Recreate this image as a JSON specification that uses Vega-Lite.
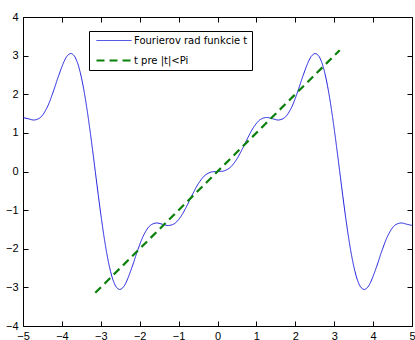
{
  "$schema": "https://vega.github.io/schema/vega-lite/v6.json",
  "width": 389,
  "height": 309,
  "autosize": {"type": "none"},
  "padding": {"left": 23, "top": 17, "right": 3, "bottom": 14},
  "background": "white",
  "config": {
    "view": {"stroke": "black", "strokeWidth": 1},
    "font": "Liberation Sans",
    "axis": {
      "domain": false,
      "grid": false,
      "tickColor": "black",
      "tickSize": -5,
      "labelColor": "black",
      "labelFont": "Liberation Sans",
      "labelFontSize": 11,
      "title": null
    },
    "legend": {
      "orient": "none",
      "legendX": 66,
      "legendY": 14,
      "title": null,
      "fillColor": "white",
      "strokeColor": "black",
      "padding": 4,
      "labelFont": "DejaVu Sans",
      "labelFontSize": 10,
      "labelColor": "black",
      "symbolType": "M-3.5,0H3.5",
      "symbolSize": 100,
      "symbolOffset": 14.5,
      "rowPadding": 8,
      "labelOffset": 13.5
    }
  },
  "data": {
    "values": [
      {"t": -5, "y": 1.3966, "s": "Fourierov rad funkcie t"},
      {"t": -4.8695, "y": 1.3663, "s": "Fourierov rad funkcie t"},
      {"t": -4.7124, "y": 1.3333, "s": "Fourierov rad funkcie t"},
      {"t": -4.5553, "y": 1.3965, "s": "Fourierov rad funkcie t"},
      {"t": -4.3982, "y": 1.6225, "s": "Fourierov rad funkcie t"},
      {"t": -4.2412, "y": 2.0112, "s": "Fourierov rad funkcie t"},
      {"t": -4.0841, "y": 2.4812, "s": "Fourierov rad funkcie t"},
      {"t": -3.927, "y": 2.8856, "s": "Fourierov rad funkcie t"},
      {"t": -3.8485, "y": 3.0095, "s": "Fourierov rad funkcie t"},
      {"t": -3.7699, "y": 3.0546, "s": "Fourierov rad funkcie t"},
      {"t": -3.6914, "y": 3.0051, "s": "Fourierov rad funkcie t"},
      {"t": -3.6128, "y": 2.851, "s": "Fourierov rad funkcie t"},
      {"t": -3.5343, "y": 2.5884, "s": "Fourierov rad funkcie t"},
      {"t": -3.4558, "y": 2.2207, "s": "Fourierov rad funkcie t"},
      {"t": -3.3772, "y": 1.7584, "s": "Fourierov rad funkcie t"},
      {"t": -3.2987, "y": 1.2184, "s": "Fourierov rad funkcie t"},
      {"t": -3.2201, "y": 0.6235, "s": "Fourierov rad funkcie t"},
      {"t": -3.1416, "y": 0, "s": "Fourierov rad funkcie t"},
      {"t": -3.0631, "y": -0.6235, "s": "Fourierov rad funkcie t"},
      {"t": -2.9845, "y": -1.2184, "s": "Fourierov rad funkcie t"},
      {"t": -2.906, "y": -1.7584, "s": "Fourierov rad funkcie t"},
      {"t": -2.8274, "y": -2.2207, "s": "Fourierov rad funkcie t"},
      {"t": -2.7489, "y": -2.5884, "s": "Fourierov rad funkcie t"},
      {"t": -2.6704, "y": -2.851, "s": "Fourierov rad funkcie t"},
      {"t": -2.5918, "y": -3.0051, "s": "Fourierov rad funkcie t"},
      {"t": -2.5133, "y": -3.0546, "s": "Fourierov rad funkcie t"},
      {"t": -2.4347, "y": -3.0095, "s": "Fourierov rad funkcie t"},
      {"t": -2.3562, "y": -2.8856, "s": "Fourierov rad funkcie t"},
      {"t": -2.1991, "y": -2.4812, "s": "Fourierov rad funkcie t"},
      {"t": -2.042, "y": -2.0112, "s": "Fourierov rad funkcie t"},
      {"t": -1.885, "y": -1.6225, "s": "Fourierov rad funkcie t"},
      {"t": -1.7279, "y": -1.3965, "s": "Fourierov rad funkcie t"},
      {"t": -1.5708, "y": -1.3333, "s": "Fourierov rad funkcie t"},
      {"t": -1.4137, "y": -1.3663, "s": "Fourierov rad funkcie t"},
      {"t": -1.2566, "y": -1.398, "s": "Fourierov rad funkcie t"},
      {"t": -1.0996, "y": -1.3443, "s": "Fourierov rad funkcie t"},
      {"t": -0.9425, "y": -1.1669, "s": "Fourierov rad funkcie t"},
      {"t": -0.7854, "y": -0.8856, "s": "Fourierov rad funkcie t"},
      {"t": -0.6283, "y": -0.5647, "s": "Fourierov rad funkcie t"},
      {"t": -0.4712, "y": -0.2819, "s": "Fourierov rad funkcie t"},
      {"t": -0.3142, "y": -0.094, "s": "Fourierov rad funkcie t"},
      {"t": -0.1571, "y": -0.0126, "s": "Fourierov rad funkcie t"},
      {"t": 0, "y": 0, "s": "Fourierov rad funkcie t"},
      {"t": 0.1571, "y": 0.0126, "s": "Fourierov rad funkcie t"},
      {"t": 0.3142, "y": 0.094, "s": "Fourierov rad funkcie t"},
      {"t": 0.4712, "y": 0.2819, "s": "Fourierov rad funkcie t"},
      {"t": 0.6283, "y": 0.5647, "s": "Fourierov rad funkcie t"},
      {"t": 0.7854, "y": 0.8856, "s": "Fourierov rad funkcie t"},
      {"t": 0.9425, "y": 1.1669, "s": "Fourierov rad funkcie t"},
      {"t": 1.0996, "y": 1.3443, "s": "Fourierov rad funkcie t"},
      {"t": 1.2566, "y": 1.398, "s": "Fourierov rad funkcie t"},
      {"t": 1.4137, "y": 1.3663, "s": "Fourierov rad funkcie t"},
      {"t": 1.5708, "y": 1.3333, "s": "Fourierov rad funkcie t"},
      {"t": 1.7279, "y": 1.3965, "s": "Fourierov rad funkcie t"},
      {"t": 1.885, "y": 1.6225, "s": "Fourierov rad funkcie t"},
      {"t": 2.042, "y": 2.0112, "s": "Fourierov rad funkcie t"},
      {"t": 2.1991, "y": 2.4812, "s": "Fourierov rad funkcie t"},
      {"t": 2.3562, "y": 2.8856, "s": "Fourierov rad funkcie t"},
      {"t": 2.4347, "y": 3.0095, "s": "Fourierov rad funkcie t"},
      {"t": 2.5133, "y": 3.0546, "s": "Fourierov rad funkcie t"},
      {"t": 2.5918, "y": 3.0051, "s": "Fourierov rad funkcie t"},
      {"t": 2.6704, "y": 2.851, "s": "Fourierov rad funkcie t"},
      {"t": 2.7489, "y": 2.5884, "s": "Fourierov rad funkcie t"},
      {"t": 2.8274, "y": 2.2207, "s": "Fourierov rad funkcie t"},
      {"t": 2.906, "y": 1.7584, "s": "Fourierov rad funkcie t"},
      {"t": 2.9845, "y": 1.2184, "s": "Fourierov rad funkcie t"},
      {"t": 3.0631, "y": 0.6235, "s": "Fourierov rad funkcie t"},
      {"t": 3.1416, "y": 0, "s": "Fourierov rad funkcie t"},
      {"t": 3.2201, "y": -0.6235, "s": "Fourierov rad funkcie t"},
      {"t": 3.2987, "y": -1.2184, "s": "Fourierov rad funkcie t"},
      {"t": 3.3772, "y": -1.7584, "s": "Fourierov rad funkcie t"},
      {"t": 3.4558, "y": -2.2207, "s": "Fourierov rad funkcie t"},
      {"t": 3.5343, "y": -2.5884, "s": "Fourierov rad funkcie t"},
      {"t": 3.6128, "y": -2.851, "s": "Fourierov rad funkcie t"},
      {"t": 3.6914, "y": -3.0051, "s": "Fourierov rad funkcie t"},
      {"t": 3.7699, "y": -3.0546, "s": "Fourierov rad funkcie t"},
      {"t": 3.8485, "y": -3.0095, "s": "Fourierov rad funkcie t"},
      {"t": 3.927, "y": -2.8856, "s": "Fourierov rad funkcie t"},
      {"t": 4.0841, "y": -2.4812, "s": "Fourierov rad funkcie t"},
      {"t": 4.2412, "y": -2.0112, "s": "Fourierov rad funkcie t"},
      {"t": 4.3982, "y": -1.6225, "s": "Fourierov rad funkcie t"},
      {"t": 4.5553, "y": -1.3965, "s": "Fourierov rad funkcie t"},
      {"t": 4.7124, "y": -1.3333, "s": "Fourierov rad funkcie t"},
      {"t": 4.8695, "y": -1.3663, "s": "Fourierov rad funkcie t"},
      {"t": 5, "y": -1.3966, "s": "Fourierov rad funkcie t"},
      {"t": -3.1416, "y": -3.1416, "s": "t pre |t|<Pi"},
      {"t": 3.1416, "y": 3.1416, "s": "t pre |t|<Pi"}
    ]
  },
  "resolve": {"axis": {"x": "independent", "y": "independent"}},
  "layer": [
    {
      "mark": {"type": "line", "interpolate": "catmull-rom", "clip": true},
      "encoding": {
        "x": {
          "field": "t",
          "type": "quantitative",
          "scale": {"domain": [-5, 5], "nice": false, "zero": false},
          "axis": {"orient": "bottom", "values": [-5, -4, -3, -2, -1, 0, 1, 2, 3, 4, 5], "labelPadding": 9, "labelFlush": false}
        },
        "y": {
          "field": "y",
          "type": "quantitative",
          "scale": {"domain": [-4, 4], "nice": false, "zero": false},
          "axis": {"orient": "left", "values": [-4, -3, -2, -1, 0, 1, 2, 3, 4], "labelPadding": 10, "labelFlush": false}
        },
        "color": {
          "field": "s",
          "type": "nominal",
          "scale": {"domain": ["Fourierov rad funkcie t", "t pre |t|<Pi"], "range": ["#1f1fe0", "#0a800a"]}
        },
        "strokeDash": {
          "field": "s",
          "type": "nominal",
          "scale": {"domain": ["Fourierov rad funkcie t", "t pre |t|<Pi"], "range": [[1, 0], [8, 5]]}
        },
        "strokeWidth": {
          "field": "s",
          "type": "nominal",
          "scale": {"domain": ["Fourierov rad funkcie t", "t pre |t|<Pi"], "range": [1, 2.2]}
        }
      }
    },
    {
      "mark": {"type": "point", "opacity": 0},
      "encoding": {
        "x": {
          "field": "t",
          "type": "quantitative",
          "axis": {"orient": "top", "values": [-5, -4, -3, -2, -1, 0, 1, 2, 3, 4, 5], "labels": false}
        },
        "y": {
          "field": "y",
          "type": "quantitative",
          "axis": {"orient": "right", "values": [-4, -3, -2, -1, 0, 1, 2, 3, 4], "labels": false}
        }
      }
    }
  ]
}
